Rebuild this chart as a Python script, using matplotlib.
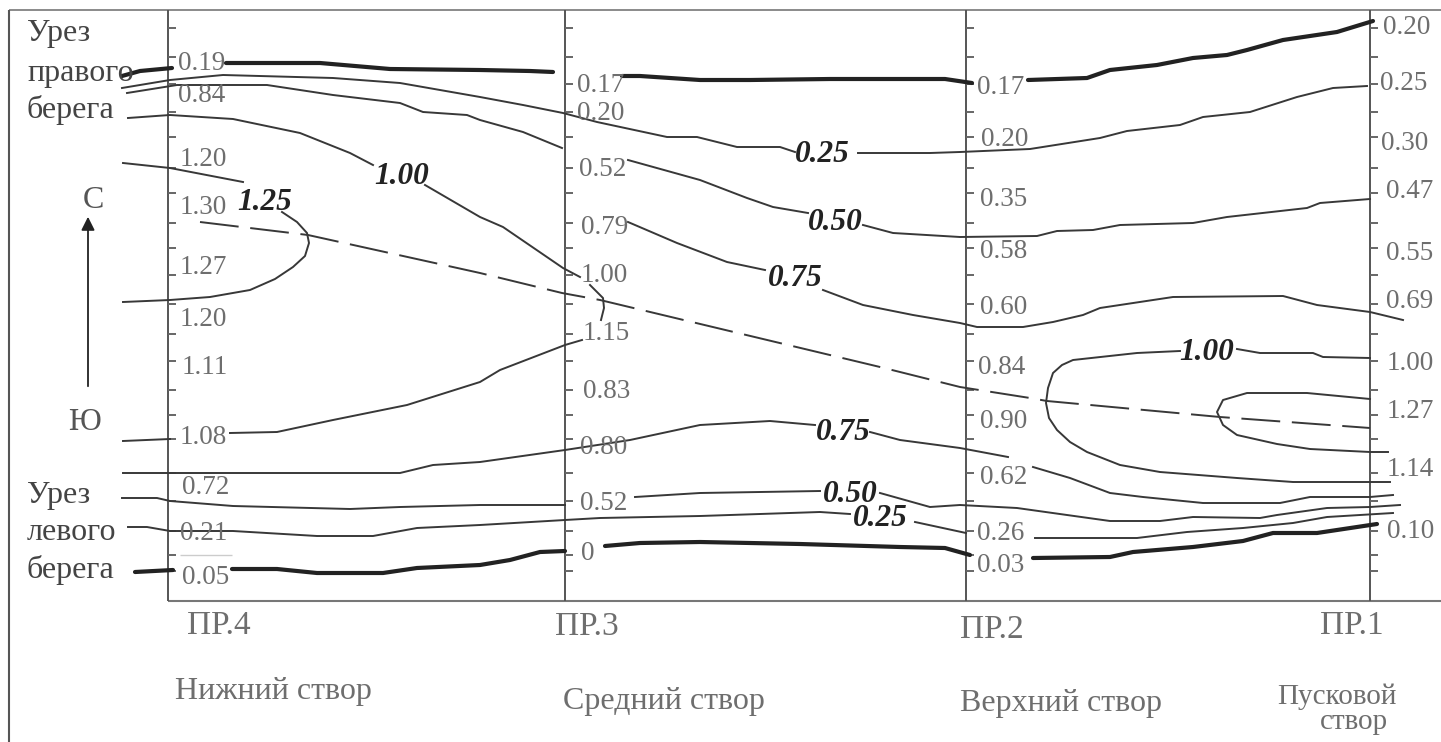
import matplotlib
matplotlib.use("Agg")
import matplotlib.pyplot as plt

plt.rcParams['font.family'] = ['Liberation Serif', 'DejaVu Serif']

# profiles (x along the river, y across it, both in picture units)
profile_x = [168, 565, 966, 1370]
tick_y = [28, 57, 84, 112, 137, 168, 193, 223, 248, 275, 304, 334, 361, 390,
          415, 439, 473, 501, 531, 555, 571]

# right bank edge (thick)
right_bank_x1 = [122, 140, 172]
right_bank_y1 = [76, 71, 68]
right_bank_x2 = [226, 320, 390, 480, 530, 553]
right_bank_y2 = [63, 63, 69, 70, 71, 72]
right_bank_x3 = [622, 640, 700, 750, 830, 900, 945, 972]
right_bank_y3 = [76, 76, 80, 80, 79, 79, 79, 83]
right_bank_x4 = [1028, 1087, 1110, 1157, 1193, 1227, 1247, 1283, 1337, 1373]
right_bank_y4 = [80, 78, 70, 65, 58, 55, 50, 40, 32, 21]

# left bank edge (thick)
left_bank_x1 = [135, 173]
left_bank_y1 = [572, 570]
left_bank_x2 = [232, 277, 317, 383, 417, 480, 510, 540, 565]
left_bank_y2 = [569, 569, 573, 573, 568, 565, 560, 552, 551]
left_bank_x3 = [605, 640, 700, 800, 900, 945, 970]
left_bank_y3 = [546, 543, 542, 544, 547, 548, 555]
left_bank_x4 = [1033, 1110, 1133, 1193, 1243, 1273, 1317, 1377]
left_bank_y4 = [558, 557, 552, 547, 541, 533, 533, 524]

# isolines, upper half
iso025_x1 = [122, 170, 223, 333, 400, 480, 523, 563, 597, 667, 697, 737, 780, 795]
iso025_y1 = [88, 80, 75, 78, 83, 97, 105, 113, 122, 137, 137, 147, 147, 152]
iso025_x2 = [858, 930, 960, 1030, 1100, 1127, 1180, 1203, 1250, 1297, 1333, 1367]
iso025_y2 = [153, 153, 152, 149, 138, 131, 125, 117, 112, 97, 88, 86]

iso050_x1 = [127, 177, 267, 333, 400, 423, 467, 480, 523, 562]
iso050_y1 = [93, 85, 85, 95, 103, 112, 115, 120, 132, 148]
iso050_x2 = [628, 700, 747, 773, 808]
iso050_y2 = [160, 180, 198, 207, 213]
iso050_x3 = [863, 893, 960, 1037, 1057, 1093, 1120, 1193, 1227, 1307, 1320, 1370]
iso050_y3 = [225, 233, 237, 236, 231, 230, 225, 223, 217, 208, 203, 199]

iso075_x1 = [628, 677, 727, 765]
iso075_y1 = [222, 243, 262, 270]
iso075_x2 = [823, 863, 913, 960, 977, 1023, 1053, 1083, 1100, 1173, 1283, 1317, 1370, 1403]
iso075_y2 = [290, 305, 315, 323, 327, 327, 322, 315, 308, 297, 296, 305, 312, 320]

iso100_x1 = [128, 170, 233, 300, 350, 373]
iso100_y1 = [118, 115, 119, 133, 153, 165]
iso100_x2 = [425, 480, 503, 563, 580]
iso100_y2 = [185, 217, 227, 268, 277]
iso100_x3 = [590, 603, 604, 601]
iso100_y3 = [285, 298, 308, 320]
iso100_x4 = [582, 565, 500, 480, 407, 333, 277, 230]
iso100_y4 = [340, 345, 370, 382, 405, 420, 432, 433]
iso100_x5 = [170, 123]
iso100_y5 = [439, 441]

iso125_x1 = [123, 170, 243]
iso125_y1 = [163, 168, 182]
iso125_x2 = [282, 297, 307, 309, 305, 293, 275, 250, 210, 170, 123]
iso125_y2 = [212, 222, 233, 243, 256, 267, 279, 290, 297, 300, 302]

# closed isolines on the right
iso100r_x1 = [1390, 1293, 1237, 1160, 1120, 1087, 1070, 1057, 1049, 1046, 1048, 1053, 1062, 1073, 1137, 1180]
iso100r_y1 = [482, 482, 478, 472, 465, 452, 442, 430, 418, 403, 388, 373, 365, 360, 353, 351]
iso100r_x2 = [1237, 1260, 1313, 1323, 1370]
iso100r_y2 = [349, 353, 353, 357, 358]

iso125r_x = [1388, 1370, 1310, 1277, 1237, 1223, 1217, 1223, 1247, 1307, 1370]
iso125r_y = [452, 452, 449, 444, 435, 425, 412, 400, 393, 393, 399]

# isolines, lower half
low075_x1 = [123, 170, 400, 433, 480, 565, 630, 700, 770, 815]
low075_y1 = [473, 473, 473, 465, 462, 450, 440, 425, 421, 425]
low075_x2 = [870, 900, 960, 1008]
low075_y2 = [432, 440, 448, 457]
low075_x3 = [1033, 1070, 1110, 1143, 1203, 1280, 1310, 1370, 1393]
low075_y3 = [467, 478, 493, 497, 503, 503, 497, 497, 495]

low050_x1 = [122, 157, 170, 233, 350, 400, 480, 565]
low050_y1 = [498, 498, 501, 506, 509, 507, 505, 505]
low050_x2 = [635, 700, 820]
low050_y2 = [497, 493, 491]
low050_x3 = [880, 930, 960, 1017, 1067, 1110, 1160, 1193, 1260, 1277, 1327, 1370, 1400]
low050_y3 = [493, 507, 505, 508, 515, 521, 521, 517, 518, 515, 508, 507, 505]

low025_x1 = [128, 147, 170, 233, 317, 373, 417, 480, 565, 600, 700, 820, 850]
low025_y1 = [527, 527, 531, 531, 536, 536, 528, 525, 520, 518, 516, 512, 514]
low025_x2 = [915, 966]
low025_y2 = [522, 533]
low025_x3 = [1035, 1137, 1187, 1243, 1293, 1327, 1393]
low025_y3 = [538, 538, 532, 528, 523, 517, 513]

# dashed axis of the stream
stream_x = [200, 308, 480, 562, 600, 880, 960, 1030, 1047, 1220, 1370]
stream_y = [222, 235, 273, 293, 300, 367, 387, 398, 401, 417, 428]

# measured values beside each profile
values_pr4 = ["0.19", "0.84", "1.20", "1.30", "1.27", "1.20", "1.11", "1.08", "0.72", "0.21", "0.05"]
values_pr4_x = [178, 178, 180, 180, 180, 180, 182, 180, 182, 180, 182]
values_pr4_y = [62, 94, 157, 206, 265, 317, 365, 436, 485, 531, 576]
values_pr3 = ["0.17", "0.20", "0.52", "0.79", "1.00", "1.15", "0.83", "0.80", "0.52", "0"]
values_pr3_x = [577, 577, 579, 581, 581, 583, 583, 580, 580, 581]
values_pr3_y = [83, 112, 168, 225, 273, 332, 389, 445, 501, 551]
values_pr2 = ["0.17", "0.20", "0.35", "0.58", "0.60", "0.84", "0.90", "0.62", "0.26", "0.03"]
values_pr2_x = [977, 981, 980, 980, 980, 978, 980, 980, 977, 977]
values_pr2_y = [85, 138, 197, 250, 305, 365, 419, 475, 532, 563]
values_pr1 = ["0.20", "0.25", "0.30", "0.47", "0.55", "0.69", "1.00", "1.27", "1.14", "0.10"]
values_pr1_x = [1383, 1380, 1381, 1386, 1386, 1386, 1387, 1387, 1387, 1387]
values_pr1_y = [25, 81, 141, 190, 251, 300, 362, 410, 467, 530]

# isoline captions
iso_labels = ["1.00", "1.25", "0.25", "0.50", "0.75", "1.00", "0.75", "0.50", "0.25"]
iso_labels_x = [402, 265, 822, 835, 795, 1207, 843, 850, 880]
iso_labels_y = [175, 200, 153, 220, 277, 350, 430, 492, 517]

profile_names = ["ПР.4", "ПР.3", "ПР.2", "ПР.1"]
profile_names_x = [187, 555, 960, 1320]
profile_names_y = [624, 625, 628, 624]
section_names = ["Нижний створ", "Средний створ", "Верхний створ", "Пусковой", "створ"]
section_names_x = [175, 563, 960, 1277, 1320]
section_names_y = [690, 699, 701, 695, 720]
bank_names = ["Урез", "правого", "берега", "Урез", "левого", "берега"]
bank_names_y = [32, 71, 108, 494, 530, 568]

thick_lines = [
    (right_bank_x1, right_bank_y1), (right_bank_x2, right_bank_y2),
    (right_bank_x3, right_bank_y3), (right_bank_x4, right_bank_y4),
    (left_bank_x1, left_bank_y1), (left_bank_x2, left_bank_y2),
    (left_bank_x3, left_bank_y3), (left_bank_x4, left_bank_y4),
]
thin_lines = [
    (iso025_x1, iso025_y1), (iso025_x2, iso025_y2),
    (iso050_x1, iso050_y1), (iso050_x2, iso050_y2), (iso050_x3, iso050_y3),
    (iso075_x1, iso075_y1), (iso075_x2, iso075_y2),
    (iso100_x1, iso100_y1), (iso100_x2, iso100_y2), (iso100_x3, iso100_y3),
    (iso100_x4, iso100_y4), (iso100_x5, iso100_y5),
    (iso125_x1, iso125_y1), (iso125_x2, iso125_y2),
    (iso100r_x1, iso100r_y1), (iso100r_x2, iso100r_y2), (iso125r_x, iso125r_y),
    (low075_x1, low075_y1), (low075_x2, low075_y2), (low075_x3, low075_y3),
    (low050_x1, low050_y1), (low050_x2, low050_y2), (low050_x3, low050_y3),
    (low025_x1, low025_y1), (low025_x2, low025_y2), (low025_x3, low025_y3),
]

# one axes over the whole figure
fig = plt.figure(figsize=(14.41, 7.42), dpi=100)
ax = fig.add_axes([0, 0, 1, 1])
ax.set_xlim(0, 1441)
ax.set_ylim(742, 0)
ax.axis('off')

# frame and profiles
gray = '#6e6e6e'
ax.hlines(10, 9, 1441, color='#8a8a8a', lw=1.4)
ax.vlines(9, 10, 742, color='#555555', lw=1.5)
ax.hlines(601, 168, 1441, color='#777777', lw=1.5)
ax.hlines(555, 180, 232, color='#cccccc', lw=1)
for x in profile_x:
    ax.vlines(x, 10, 601, color='#555555', lw=1.4)
    ax.hlines(tick_y, x, x + 8, color='#666666', lw=1.4)

# isolines
for xs, ys in thin_lines:
    ax.plot(xs, ys, color='#383838', lw=1.4, solid_joinstyle='round')
for xs, ys in thick_lines:
    ax.plot(xs, ys, color='#222222', lw=3, solid_capstyle='round', solid_joinstyle='round')
ax.plot(stream_x, stream_y, color='#383838', lw=1.4, dashes=(20, 6))

# numbers
for names, xs, ys in [(values_pr4, values_pr4_x, values_pr4_y), (values_pr3, values_pr3_x, values_pr3_y),
                      (values_pr2, values_pr2_x, values_pr2_y), (values_pr1, values_pr1_x, values_pr1_y)]:
    for name, x, y in zip(names, xs, ys):
        ax.text(x, y + 2, name, fontsize=19.5, color=gray, ha='left', va='center')

for name, x, y in zip(iso_labels, iso_labels_x, iso_labels_y):
    ax.text(x, y + 2, name, fontsize=22.5, color='#222222', ha='center', va='center',
            fontweight='bold', fontstyle='italic')

for name, x, y in zip(profile_names, profile_names_x, profile_names_y):
    ax.text(x, y + 2, name, fontsize=24, color=gray, ha='left', va='center')
for name, x, y in zip(section_names, section_names_x, section_names_y):
    size = 21 if name in ("Пусковой", "створ") else 23
    ax.text(x, y + 2, name, fontsize=size, color=gray, ha='left', va='center')
for name, y in zip(bank_names, bank_names_y):
    ax.text(27, y + 2, name, fontsize=23, color='#444444', ha='left', va='center')

# north arrow
ax.annotate('', xy=(88, 214), xytext=(88, 389),
            arrowprops=dict(arrowstyle='-|>', color='#222222', lw=1.3, mutation_scale=20))
ax.text(93, 200, "С", fontsize=23, color='#555555', ha='center', va='center')
ax.text(85, 423, "Ю", fontsize=23, color='#555555', ha='center', va='center')

fig.savefig("out.png", dpi=100)
